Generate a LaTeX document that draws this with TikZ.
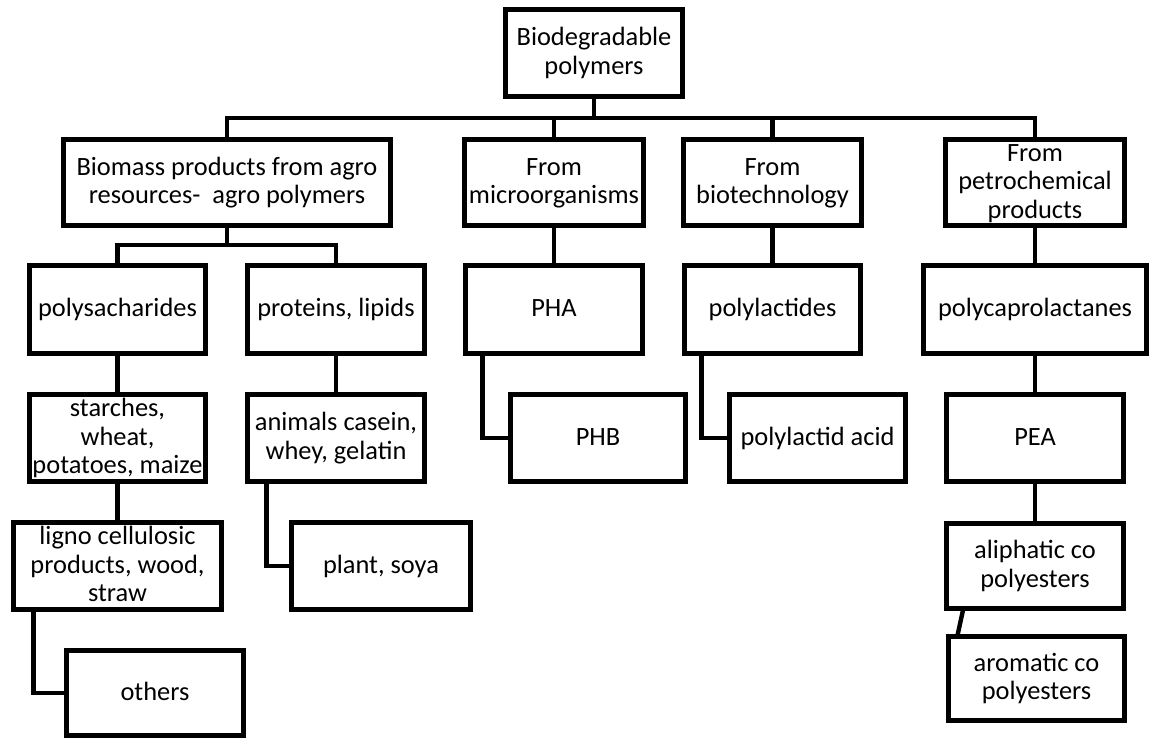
\documentclass[tikz,border=0pt]{standalone}
\usepackage{fontspec}
\setmainfont{Carlito}
% centred block of lines that does not enlarge its box
\newcommand\tx[1]{\smash{\raisebox{-3.7pt}{\begin{tabular}{@{}c@{}}#1\end{tabular}}}}
% \bx{name}{left}{top}{right}{bottom}{text}: outer edges given in px
\newcommand\bx[6]{%
  \pgfmathsetmacro\bxw{(#4-#2-4.6)*0.5}%
  \pgfmathsetmacro\bxh{(#5-#3-4.6)*0.5}%
  \node[box, minimum width=\bxw pt, minimum height=\bxh pt] (#1)
    at ({(#2+#4)/2},{(#3+#5)/2}) {\tx{#6}};}
\begin{document}
\begin{tikzpicture}[x=0.5pt,y=-0.5pt,
  box/.style={draw, line width=2.3pt, inner sep=0pt, outer sep=0pt,
    font=\fontsize{13.2pt}{14.25pt}\selectfont},
  link/.style={line width=2.2pt}]
\useasboundingbox (0,0) rectangle (1150,740);

% root
\bx{root}{503}{7}{685}{99}{Biodegradable\\polymers}

% first level
\bx{bio}{61}{137}{393}{228}{Biomass products from agro\\resources-\ \ agro polymers}
\bx{micro}{462}{137}{646}{228}{From\\microorganisms}
\bx{biotech}{681}{137}{864}{228}{From\\biotechnology}
\bx{petro}{943}{137}{1127}{228}{From\\petrochemical\\products}

% second level
\bx{poly}{27}{263}{208}{356}{polysacharides}
\bx{prot}{245}{263}{427}{356}{proteins, lipids}
\bx{pha}{463}{263}{645}{356}{PHA}
\bx{plac}{682}{263}{863}{356}{polylactides}
\bx{pcl}{921}{263}{1149}{356}{polycaprolactanes}

% third level
\bx{starch}{27}{392}{208}{484}{starches,\\wheat,\\potatoes, maize}
\bx{anim}{245}{392}{427}{484}{animals casein,\\whey, gelatin}
\bx{phb}{508}{392}{688}{484}{PHB}
\bx{pla}{727}{392}{908}{484}{polylactid acid}
\bx{pea}{944}{392}{1126}{484}{PEA}

% fourth level
\bx{ligno}{11}{520}{224}{612}{ligno cellulosic\\products, wood,\\straw}
\bx{plant}{289}{520}{473}{612}{plant, soya}
\bx{aliph}{944}{521}{1126}{611}{aliphatic co\\polyesters}

% fifth level
\bx{others}{64}{648}{246}{738}{others}
\bx{arom}{946}{634}{1127}{723}{aromatic co\\polyesters}

% main bus
\coordinate (bus) at (594,118);
\draw[link] (root.south) -- (bus);
\foreach \n in {bio,micro,biotech,petro}
  \draw[link] (bus) -| (\n.north);

% agro branch bus
\coordinate (abus) at (227,245);
\draw[link] (bio.south) -- (abus);
\draw[link] (abus) -| (poly.north);
\draw[link] (abus) -| (prot.north);

% straight links
\draw[link] (poly.south) -- (starch.north);
\draw[link] (starch.south) -- (ligno.north);
\draw[link] (prot.south) -- (anim.north);
\draw[link] (micro.south) -- (pha.north);
\draw[link] (biotech.south) -- (plac.north);
\draw[link] (petro.south) -- (pcl.north);
\draw[link] (pcl.south) -- (pea.north);
\draw[link] (pea.south) -- (aliph.north);

% elbow links
\draw[link] ([xshift=10pt]ligno.south west) |- (others.west);
\draw[link] ([xshift=9.5pt]anim.south west) |- (plant.west);
\draw[link] ([xshift=8.5pt]pha.south west) |- (phb.west);
\draw[link] ([xshift=8.5pt]plac.south west) |- (pla.west);
\draw[link] ([xshift=8.5pt]aliph.south west) -- ([xshift=4.5pt]arom.north west);
\end{tikzpicture}
\end{document}
